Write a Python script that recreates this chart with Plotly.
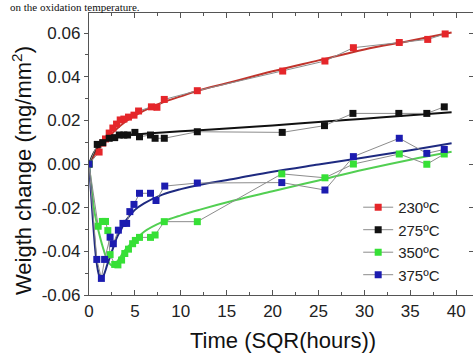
import plotly.graph_objects as go

# ---- measured weight change vs. square root of time ----
t_230 = [0, 1.1, 1.5, 1.8, 2.2, 2.6, 3.0, 3.4, 3.8, 4.3, 4.9, 5.4, 6.8, 7.4, 8.2, 11.8, 21.1, 25.7, 28.8, 33.8, 36.9, 38.8]
w_230 = [0, 0.0055, 0.0096, 0.0115, 0.0142, 0.0165, 0.0183, 0.0202, 0.0206, 0.0215, 0.0224, 0.0243, 0.0262, 0.0260, 0.0296, 0.0336, 0.0426, 0.0472, 0.0533, 0.0557, 0.0571, 0.0596]

t_275 = [0, 0.9, 1.5, 2.2, 2.8, 3.3, 3.8, 4.2, 5.0, 5.5, 6.7, 7.2, 8.2, 11.8, 21.05, 25.65, 28.75, 33.75, 36.8, 38.7]
w_275 = [0, 0.0090, 0.0098, 0.0118, 0.0121, 0.0133, 0.0133, 0.0133, 0.0145, 0.0125, 0.0133, 0.0118, 0.0118, 0.0148, 0.0145, 0.0176, 0.0232, 0.0232, 0.0232, 0.0262]

t_350 = [0, 1.0, 1.45, 1.8, 2.05, 2.3, 2.8, 3.15, 3.55, 3.9, 4.3, 4.75, 5.05, 5.5, 6.7, 7.2, 8.2, 11.8, 21.0, 25.7, 28.8, 33.8, 36.8, 38.7]
w_350 = [0, -0.0285, -0.0263, -0.0263, -0.0305, -0.0415, -0.0460, -0.0462, -0.0440, -0.0410, -0.0390, -0.0365, -0.0350, -0.0336, -0.0336, -0.0325, -0.0264, -0.0264, -0.0045, -0.0063, 0.0000, 0.0046, -0.0001, 0.0046]

t_375 = [0, 0.85, 1.35, 1.7, 2.3, 2.65, 3.2, 3.7, 4.1, 4.45, 4.9, 5.5, 6.7, 7.3, 8.25, 11.8, 21.0, 25.7, 28.8, 33.8, 36.8, 38.7]
w_375 = [0, -0.0437, -0.0524, -0.0437, -0.0335, -0.0365, -0.0303, -0.0272, -0.0272, -0.0218, -0.0185, -0.0134, -0.0134, -0.0167, -0.0101, -0.0087, -0.0085, -0.0119, 0.0034, 0.0118, 0.0049, 0.0067]

# ---- fitted trend curves ----
ft_230 = [0, 0.5, 1, 2, 3, 4, 5, 6, 8, 10, 12, 15, 20, 25, 30, 35, 39.5]
fw_230 = [0, 0.0035, 0.0065, 0.0115, 0.0160, 0.0195, 0.0222, 0.0245, 0.0282, 0.0310, 0.0338, 0.0370, 0.0425, 0.0475, 0.0525, 0.0565, 0.0603]

ft_275 = [0, 0.5, 1, 2, 3, 5, 8, 12, 15, 20, 25, 30, 35, 39.5]
fw_275 = [0, 0.0050, 0.0078, 0.0108, 0.0123, 0.0135, 0.0145, 0.0155, 0.0163, 0.0177, 0.0193, 0.0208, 0.0223, 0.0237]

ft_350 = [0, 0.3, 0.6, 1.0, 1.5, 2.0, 2.5, 3.0, 3.5, 4.0, 5.0, 6.0, 8.0, 10, 12, 16, 20, 25, 30, 35, 39.5]
fw_350 = [0, -0.012, -0.022, -0.030, -0.038, -0.044, -0.0465, -0.045, -0.042, -0.039, -0.035, -0.031, -0.0265, -0.0235, -0.021, -0.0165, -0.0125, -0.0075, -0.0025, 0.002, 0.0056]

ft_375 = [0, 0.2, 0.5, 0.8, 1.1, 1.35, 1.6, 2.0, 2.5, 3.0, 3.5, 4.0, 5.0, 6.0, 8.0, 10, 12, 16, 20, 25, 30, 35, 39.5]
fw_375 = [0, -0.012, -0.030, -0.044, -0.051, -0.0528, -0.051, -0.046, -0.040, -0.034, -0.030, -0.026, -0.021, -0.018, -0.014, -0.0115, -0.0096, -0.0066, -0.0035, -0.0002, 0.003, 0.0063, 0.0095]

series_names = ["230ºC", "275ºC", "350ºC", "375ºC"]
marker_colors = ["#e5262a", "#111111", "#36e036", "#1c1cb0"]
fit_colors = ["#c0342c", "#111111", "#52cf52", "#1e2a80"]

x_ticks = [0, 5, 10, 15, 20, 25, 30, 35, 40]
y_ticks = [-0.06, -0.04, -0.02, 0.00, 0.02, 0.04, 0.06]
y_tick_text = ["-0.06", "-0.04", "-0.02", "0.00", "0.02", "0.04", "0.06"]

data = [(t_230, w_230), (t_275, w_275), (t_350, w_350), (t_375, w_375)]
fits = [(ft_230, fw_230), (ft_275, fw_275), (ft_350, fw_350), (ft_375, fw_375)]

FONT = "Liberation Sans, Arial, sans-serif"

fig = go.Figure()

for (fx, fy), c in zip(fits, fit_colors):
    fig.add_trace(go.Scatter(x=fx, y=fy, mode="lines", line=dict(color=c, width=2, shape="spline"),
                             showlegend=False, hoverinfo="skip"))

for (tx, ty), name, c in zip(data, series_names, marker_colors):
    fig.add_trace(go.Scatter(x=tx, y=ty, mode="lines+markers", name=name,
                             line=dict(color="#8c8c8c", width=1),
                             marker=dict(symbol="square", size=7, color=c, line=dict(width=0))))

axis_line = "#555555"
fig.update_layout(
    width=473, height=354,
    margin=dict(l=89, r=0, t=13, b=59),
    paper_bgcolor="white", plot_bgcolor="white",
    font=dict(family=FONT, size=17, color="#222222"),
    xaxis=dict(range=[0, 41.83], tickvals=x_ticks, ticks="inside", ticklen=5,
               tickcolor=axis_line, showline=True, linecolor=axis_line, linewidth=1.3,
               mirror="ticks", showgrid=False, zeroline=False,
               minor=dict(dtick=2.5, tick0=0, ticks="inside", ticklen=3, tickcolor=axis_line),
               tickfont=dict(size=17)),
    yaxis=dict(range=[-0.06, 0.0692], tickvals=y_ticks, ticktext=y_tick_text, ticks="outside",
               ticklen=4, tickcolor=axis_line, showline=True, linecolor=axis_line, linewidth=1.3,
               showgrid=False, zeroline=False,
               minor=dict(dtick=0.01, tick0=0, ticks="outside", ticklen=3, tickcolor=axis_line),
               tickfont=dict(size=17)),
    yaxis2=dict(range=[-0.06, 0.0692], overlaying="y", side="right", tickvals=y_ticks,
                showticklabels=False, ticks="inside", ticklen=4, tickcolor=axis_line,
                showline=True, linecolor=axis_line, linewidth=1.3, showgrid=False, zeroline=False),
    legend=dict(x=0.701, y=0.369, xanchor="left", yanchor="top", bgcolor="rgba(0,0,0,0)",
                font=dict(size=15, family=FONT), tracegroupgap=0),
    showlegend=True,
)

# invisible helper so the right-hand axis is drawn
fig.add_trace(go.Scatter(x=[0], y=[0], yaxis="y2", mode="markers", marker=dict(opacity=0),
                         showlegend=False, hoverinfo="skip"))

fig.add_annotation(text="Time (SQR(hours))", xref="paper", yref="paper", x=0.5065, y=-0.16,
                   xanchor="center", yanchor="middle", showarrow=False,
                   font=dict(family=FONT, size=22, color="#111111"))
fig.add_annotation(text="Weigth change (mg/mm<sup>2</sup>)", xref="paper", yref="paper",
                   x=-0.1745, y=0.443, textangle=-90, xanchor="center", yanchor="middle",
                   showarrow=False, font=dict(family=FONT, size=22, color="#111111"))
fig.add_annotation(text="on the oxidation temperature.", xref="paper", yref="paper",
                   x=(141 - 89) / 384, y=295 / 282, xanchor="right", yanchor="top",
                   showarrow=False, borderpad=0,
                   font=dict(family="Liberation Serif, Times New Roman, serif",
                             size=11, color="#111111"))

fig.write_html("out.html")
